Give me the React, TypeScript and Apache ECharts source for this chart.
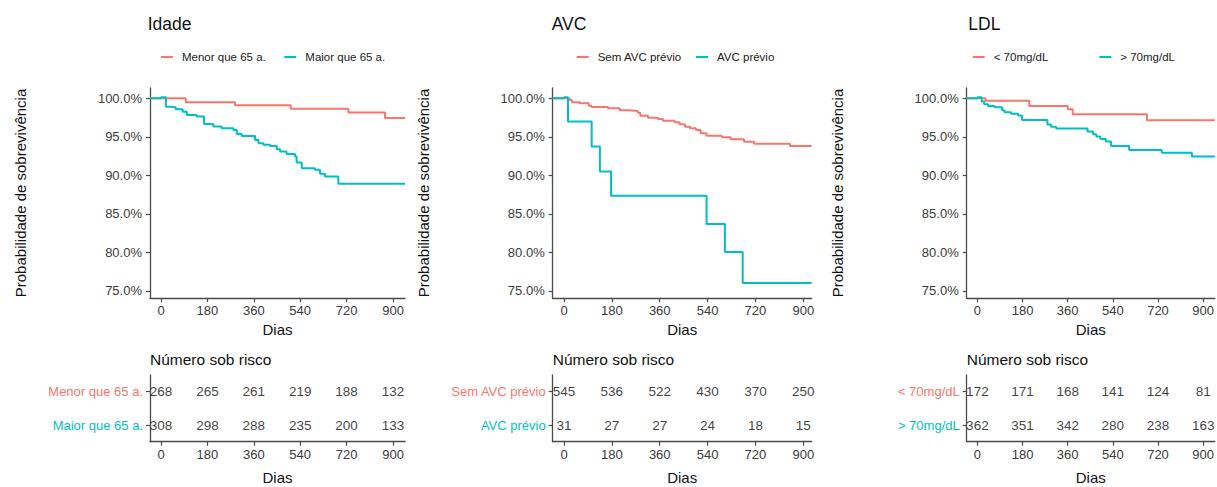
import React, { useEffect, useRef } from "react";
import * as echarts from "echarts";

// ---------- DATA ----------
const panelTitles = ["Idade", "AVC", "LDL"];
const groupNames = [
  ["Menor que 65 a.", "Maior que 65 a."],
  ["Sem AVC prévio", "AVC prévio"],
  ["< 70mg/dL", "> 70mg/dL"],
];
const dayTicks = [0, 180, 360, 540, 720, 900];
const survTicks = [75, 80, 85, 90, 95, 100];

// Idade
const idadeMenorTimes = [0, 96, 287, 503, 727, 869];
const idadeMenorSurv = [100, 99.5, 99.1, 98.65, 98.15, 97.45];
const idadeMaiorTimes = [0, 19, 35, 57, 84, 100, 138, 167, 203, 235, 281, 294, 313, 365, 378, 397, 423, 449, 462, 487, 520, 526, 546, 597, 617, 636, 688];
const idadeMaiorSurv = [100.15, 98.92, 98.83, 98.58, 98.27, 97.84, 97.63, 96.68, 96.33, 96.11, 95.9, 95.38, 95.12, 94.6, 94.17, 93.96, 93.83, 93.39, 93.09, 92.79, 92.44, 91.67, 90.93, 90.72, 90.2, 89.85, 88.9];

// AVC
const avcSemTimes = [0, 21, 30, 59, 93, 103, 165, 209, 241, 278, 287, 316, 354, 372, 416, 435, 455, 474, 496, 514, 536, 593, 627, 677, 715, 850];
const avcSemSurv = [100, 99.78, 99.48, 99.35, 99.04, 98.87, 98.7, 98.44, 98.35, 98.14, 97.75, 97.49, 97.32, 97.1, 96.89, 96.63, 96.32, 96.11, 95.89, 95.47, 95.16, 94.95, 94.69, 94.38, 94.12, 93.82];
const avcPrevioTimes = [0, 15, 104, 135, 177, 536, 605, 672];
const avcPrevioSurv = [100.15, 96.98, 93.74, 90.5, 87.35, 83.68, 80.05, 76.04];

// LDL
const ldlMenorTimes = [0, 32, 207, 360, 380, 676];
const ldlMenorSurv = [100, 99.7, 99.02, 98.58, 97.93, 97.15];
const ldlMaiorTimes = [0, 17, 27, 43, 69, 98, 108, 134, 162, 178, 279, 294, 314, 439, 461, 474, 490, 512, 533, 605, 735, 855];
const ldlMaiorSurv = [100.15, 99.6, 99.22, 99.0, 98.83, 98.45, 98.18, 98.0, 97.78, 97.2, 96.6, 96.3, 96.07, 95.7, 95.33, 95.05, 94.72, 94.4, 93.83, 93.3, 92.95, 92.45];

// Number at risk
const riskIdadeMenor = [268, 265, 261, 219, 188, 132];
const riskIdadeMaior = [308, 298, 288, 235, 200, 133];
const riskAvcSem = [545, 536, 522, 430, 370, 250];
const riskAvcPrevio = [31, 27, 27, 24, 18, 15];
const riskLdlMenor = [172, 171, 168, 141, 124, 81];
const riskLdlMaior = [362, 351, 342, 280, 238, 163];

const curves = [
  [[idadeMenorTimes, idadeMenorSurv], [idadeMaiorTimes, idadeMaiorSurv]],
  [[avcSemTimes, avcSemSurv], [avcPrevioTimes, avcPrevioSurv]],
  [[ldlMenorTimes, ldlMenorSurv], [ldlMaiorTimes, ldlMaiorSurv]],
];
const risks = [
  [riskIdadeMenor, riskIdadeMaior],
  [riskAvcSem, riskAvcPrevio],
  [riskLdlMenor, riskLdlMaior],
];

// ---------- STYLE / LAYOUT ----------
const COLORS = ["#F8766D", "#00BFC4"];
const FONT = "'Liberation Sans', Arial, sans-serif";
const AXIS_COLOR = "#4a4a4a";
const TICK_TEXT = "#3a3a3a";
const layout = [
  { left: 150, width: 255, xMin: -42.7, xMax: 946.5, titleX: 147.7, legendX: [161, 284.3] },
  { left: 552.7, width: 259, xMin: -42.5, xMax: 931.5, titleX: 551.7, legendX: [576.7, 696] },
  { left: 966.7, width: 255.3, xMin: -42.6, xMax: 946.5, titleX: 968.3, legendX: [972.7, 1099.3] },
];
const Y_MIN = 74.09;
const Y_MAX = 101.34;

function buildOption() {
  const title: any[] = [];
  const legend: any[] = [];
  const grid: any[] = [];
  const xAxis: any[] = [];
  const yAxis: any[] = [];
  const series: any[] = [];

  const axisLine = { show: true, onZero: false, lineStyle: { color: AXIS_COLOR, width: 1.3 } };
  const axisTickBase = { show: true, length: 4, lineStyle: { color: AXIS_COLOR, width: 1.2 } };

  layout.forEach((L, p) => {
    title.push({
      text: panelTitles[p],
      left: L.titleX,
      top: 15,
      padding: 0,
      textStyle: { fontSize: 17.5, fontWeight: "normal", color: "#111", fontFamily: FONT },
    });
    title.push({
      text: "Número sob risco",
      left: L.left,
      top: 351,
      padding: 0,
      textStyle: { fontSize: 15.5, fontWeight: "normal", color: "#111", fontFamily: FONT },
    });
    groupNames[p].forEach((g, k) => {
      legend.push({
        data: [{ name: g, icon: "rect" }],
        left: L.legendX[k],
        top: 51,
        padding: 0,
        itemWidth: 12,
        itemHeight: 2,
        selectedMode: false,
        textStyle: { fontSize: 11.5, color: "#1a1a1a", fontFamily: FONT, padding: [0, 0, 0, 4] },
      });
    });

    grid.push({ left: L.left, top: 88, width: L.width, height: 210 });
    xAxis.push({
      gridIndex: p,
      type: "value",
      min: L.xMin,
      max: L.xMax,
      axisLine,
      axisTick: { ...axisTickBase, customValues: dayTicks },
      axisLabel: { customValues: dayTicks, fontSize: 13, color: TICK_TEXT, margin: 6, fontFamily: FONT },
      splitLine: { show: false },
      name: "Dias",
      nameLocation: "middle",
      nameGap: 24,
      nameTextStyle: { fontSize: 15, color: "#111", fontFamily: FONT },
    });
    yAxis.push({
      gridIndex: p,
      type: "value",
      min: Y_MIN,
      max: Y_MAX,
      axisLine,
      axisTick: { ...axisTickBase, customValues: survTicks },
      axisLabel: {
        customValues: survTicks,
        formatter: (v: number) => v.toFixed(1) + "%",
        fontSize: 13,
        color: TICK_TEXT,
        margin: 8,
        fontFamily: FONT,
      },
      splitLine: { show: false },
      name: "Probabilidade de sobrevivência",
      nameLocation: "middle",
      nameGap: 122,
      nameTextStyle: { fontSize: 15, color: "#111", fontFamily: FONT },
    });

    curves[p].forEach(([times, surv], k) => {
      const data: number[][] = [[L.xMin, 100]];
      times.forEach((t, i) => data.push([t, surv[i]]));
      data.push([L.xMax, surv[surv.length - 1]]);
      series.push({
        name: groupNames[p][k],
        type: "line",
        step: "end",
        xAxisIndex: p,
        yAxisIndex: p,
        showSymbol: false,
        symbol: "none",
        data,
        color: COLORS[k],
        lineStyle: { color: COLORS[k], width: 2 },
      });
    });
  });

  layout.forEach((L, p) => {
    const gi = 3 + p;
    grid.push({ left: L.left, top: 375, width: L.width, height: 66.7 });
    xAxis.push({
      gridIndex: gi,
      type: "value",
      min: L.xMin,
      max: L.xMax,
      axisLine,
      axisTick: { ...axisTickBase, customValues: dayTicks },
      axisLabel: { customValues: dayTicks, fontSize: 13, color: TICK_TEXT, margin: 6, fontFamily: FONT },
      splitLine: { show: false },
      name: "Dias",
      nameLocation: "middle",
      nameGap: 28,
      nameTextStyle: { fontSize: 15, color: "#111", fontFamily: FONT },
    });
    yAxis.push({
      gridIndex: gi,
      type: "category",
      data: groupNames[p],
      inverse: true,
      axisLine,
      axisTick: { ...axisTickBase, alignWithLabel: true },
      axisLabel: {
        fontSize: 13,
        margin: 7,
        fontFamily: FONT,
        color: (_v: any, i: number) => COLORS[i],
      },
      splitLine: { show: false },
    });
    groupNames[p].forEach((g, k) => {
      series.push({
        type: "scatter",
        xAxisIndex: gi,
        yAxisIndex: gi,
        symbolSize: 0.1,
        itemStyle: { color: "transparent" },
        data: dayTicks.map((d, i) => [d, g, risks[p][k][i]]),
        label: {
          show: true,
          position: "inside",
          formatter: (pp: any) => String(pp.value[2]),
          fontSize: 13.5,
          color: "#0d0d0d",
          fontFamily: FONT,
        },
        silent: true,
      });
    });
  });

  return {
    animation: false,
    backgroundColor: "#ffffff",
    textStyle: { fontFamily: FONT },
    title,
    legend,
    grid,
    xAxis,
    yAxis,
    series,
  };
}

export default function App() {
  const ref = useRef<HTMLDivElement>(null);
  useEffect(() => {
    if (!ref.current) return;
    const chart = echarts.init(ref.current, undefined, { renderer: "svg" });
    chart.setOption(buildOption() as any);
    return () => chart.dispose();
  }, []);
  return (
    <div
      ref={ref}
      style={{ position: "absolute", left: 0, top: 0, width: 1217, height: 487, background: "#fff" }}
    />
  );
}
